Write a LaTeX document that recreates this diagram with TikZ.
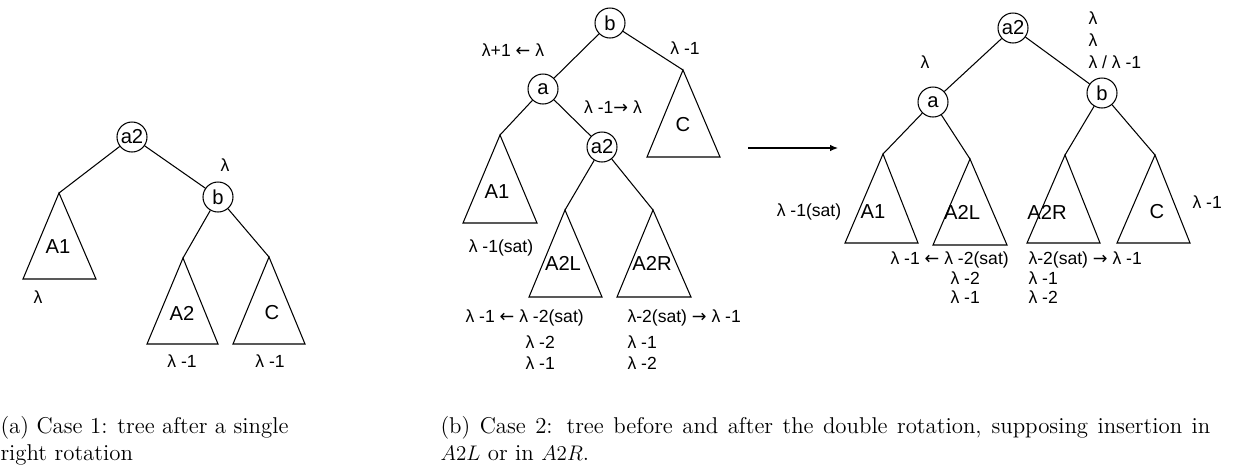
\documentclass[tikz,border=0pt]{standalone}
\usepackage{fontspec}
\newfontfamily\arialfont{Liberation Sans}
\newfontfamily\arrowfont{DejaVu Sans}
\newcommand\leftarr{{\arrowfont ←}}
\newcommand\rightarr{{\arrowfont →}}
\usetikzlibrary{arrows.meta}

\begin{document}
\begin{tikzpicture}[
  x=0.2mm, y=-0.2mm, line width=0.6pt,
  vertex/.style={draw, circle, minimum size=6mm, inner sep=0pt, font=\arialfont\fontsize{11.5}{13}\selectfont},
  tri/.style={draw, line join=miter},
  sublbl/.style={inner sep=0pt, font=\arialfont\fontsize{11.5}{13}\selectfont},
  ht/.style={inner sep=0pt, font=\arialfont\fontsize{10}{12}\selectfont},
  htw/.style={ht, anchor=west},
  arr/.style={-{Latex[length=1.6mm,width=1.3mm]}},
  capline/.style={inner sep=0pt, anchor=base west, font=\fontsize{13}{15.5}\selectfont}
]
\useasboundingbox (0,0) rectangle (1233,472);

% (a) single right rotation
\node[vertex] (la2) at (132,137) {a2};
\node[vertex] (lb) at (218,197) {b};
\coordinate (lA1t) at (59,193);
\coordinate (lA2t) at (183,258);
\coordinate (lCt) at (269,257);
\draw[tri] (lA1t) -- ++(-36,86) -- ++(73,0) -- cycle;
\draw[tri] (lA2t) -- ++(-36,86) -- ++(71,0) -- cycle;
\draw[tri] (lCt) -- ++(-36,87) -- ++(72,0) -- cycle;
\draw (la2) -- (lA1t);
\draw (la2) -- (lb);
\draw (lb) -- (lA2t);
\draw (lb) -- (lCt);
\node[sublbl] (lA1) at (58,247) {A1};
\node[sublbl] (lA2) at (182,313) {A2};
\node[sublbl] (lC) at (272,313) {C};
\node[ht] (lhb) at (225,165) {λ};
\node[ht] (lhA1) at (38,297) {λ};
\node[ht] (lhA2) at (182,361) {λ -1};
\node[ht] (lhC) at (270,361) {λ -1};

% (b) before the double rotation
\node[vertex] (mb) at (610,23) {b};
\node[vertex] (ma) at (543,89) {a};
\node[vertex] (ma2) at (602,147) {a2};
\coordinate (mA1t) at (500,135);
\coordinate (mCt) at (683,70);
\coordinate (mA2Lt) at (565,210);
\coordinate (mA2Rt) at (653,210);
\draw[tri] (mA1t) -- ++(-37,88) -- ++(74,0) -- cycle;
\draw[tri] (mCt) -- ++(-36,87) -- ++(73,0) -- cycle;
\draw[tri] (mA2Lt) -- ++(-36,87) -- ++(73,0) -- cycle;
\draw[tri] (mA2Rt) -- ++(-36,87) -- ++(74,0) -- cycle;
\draw (mb) -- (ma);
\draw (mb) -- (mCt);
\draw (ma) -- (mA1t);
\draw (ma) -- (ma2);
\draw (ma2) -- (mA2Lt);
\draw (ma2) -- (mA2Rt);
\node[sublbl] (mA1) at (497,192) {A1};
\node[sublbl] (mC) at (683,125) {C};
\node[sublbl] (mA2L) at (563,263) {A2L};
\node[sublbl] (mA2R) at (652,263) {A2R};
\node[ht] (mha) at (513,50) {λ+1 \leftarr\ λ};
\node[ht] (mhC) at (685,48) {λ -1};
\node[ht] (mha2) at (613,107) {λ -1\rightarr\ λ};
\node[ht] (mhA1) at (501,248) {λ -1(sat)};
\node[htw] (mhL1) at (465,318) {λ -1 \leftarr\ λ -2(sat)};
\node[htw] (mhL2) at (525,342) {λ -2};
\node[htw] (mhL3) at (525,363) {λ -1};
\node[htw] (mhR1) at (627,318) {λ-2(sat) \rightarr\ λ -1};
\node[htw] (mhR2) at (627,342) {λ -1};
\node[htw] (mhR3) at (627,363) {λ -2};

% rotation arrow
\coordinate (arrS) at (748,148);
\coordinate (arrE) at (838,148);
\draw[arr] (arrS) -- (arrE);

% (b) after the double rotation
\node[vertex] (ra2) at (1013,28) {a2};
\node[vertex] (ra) at (933,102) {a};
\node[vertex] (rb) at (1102,93) {b};
\coordinate (rA1t) at (883,154);
\coordinate (rA2Lt) at (970,159);
\coordinate (rA2Rt) at (1065,155);
\coordinate (rCt) at (1155,155);
\draw[tri] (rA1t) -- ++(-38,89) -- ++(73,0) -- cycle;
\draw[tri] (rA2Lt) -- ++(-37,86) -- ++(74,0) -- cycle;
\draw[tri] (rA2Rt) -- ++(-38,88) -- ++(73,0) -- cycle;
\draw[tri] (rCt) -- ++(-38,88) -- ++(73,0) -- cycle;
\draw (ra2) -- (ra);
\draw (ra2) -- (rb);
\draw (ra) -- (rA1t);
\draw (ra) -- (rA2Lt);
\draw (rb) -- (rA2Rt);
\draw (rb) -- (rCt);
\node[sublbl] (rA1) at (873,212) {A1};
\node[sublbl] (rA2L) at (962,212) {A2L};
\node[sublbl] (rA2R) at (1047,212) {A2R};
\node[sublbl] (rC) at (1157,212) {C};
\node[htw] (rhb1) at (1088,18) {λ};
\node[htw] (rhb2) at (1088,40) {λ};
\node[htw] (rhb3) at (1088,62) {λ / λ -1};
\node[ht] (rha) at (925,62) {λ};
\node[ht] (rhA1) at (809,212) {λ -1(sat)};
\node[htw] (rhC) at (1192,202) {λ -1};
\node[htw] (rhL1) at (890,260) {λ -1 \leftarr\ λ -2(sat)};
\node[htw] (rhL2) at (950,278) {λ -2};
\node[htw] (rhL3) at (950,297) {λ -1};
\node[htw] (rhR1) at (1028,260) {λ-2(sat) \rightarr\ λ -1};
\node[htw] (rhR2) at (1028,278) {λ -1};
\node[htw] (rhR3) at (1028,297) {λ -2};

% captions
\node[capline] (capa1) at (0,433) {(a) Case 1: tree after a single};
\node[capline] (capa2) at (0,460) {right rotation};
\node[capline] (capb1) at (440,433) {\hbox to 438pt{(b) Case 2: tree before and after the double rotation, supposing insertion in}};
\node[capline] (capb2) at (440,460) {$A2L$ or in $A2R$.};
\end{tikzpicture}
\end{document}
